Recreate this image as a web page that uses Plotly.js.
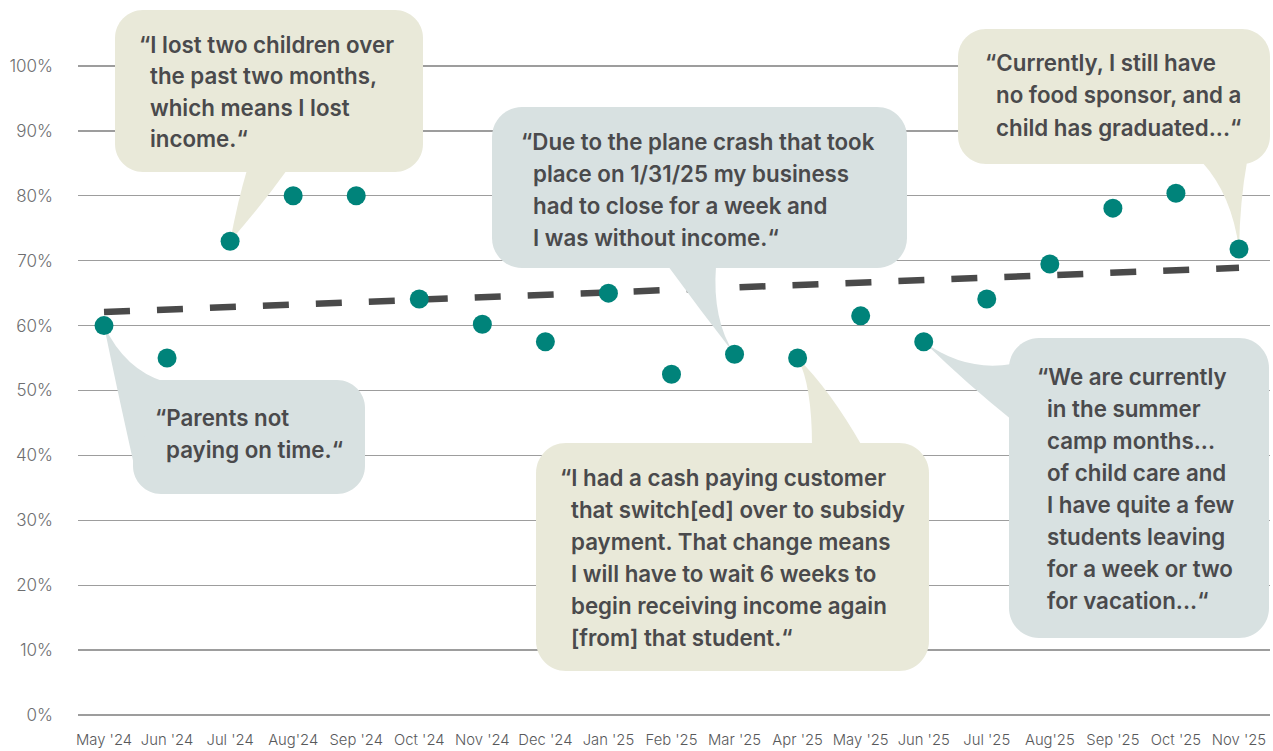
<!DOCTYPE html>
<html>
<head>
<meta charset="utf-8">
<script src="https://cdn.plot.ly/plotly-3.0.1.min.js"></script>
<style>html,body{margin:0;padding:0;background:#fff;}#chart{width:1273px;height:751px;}</style>
</head>
<body>
<div id="chart"></div>
<script>
// ---- data ----
const months = ["May '24","Jun '24","Jul '24","Aug'24","Sep '24","Oct '24","Nov '24","Dec '24","Jan '25","Feb '25","Mar '25","Apr '25","May '25","Jun '25","Jul '25","Aug'25","Sep '25","Oct '25","Nov '25"];
const shareValues = [60, 55, 73, 80, 80, 64.1, 60.2, 57.5, 65, 52.5, 55.6, 55, 61.5, 57.5, 64.1, 69.5, 78.1, 80.4, 71.8];
const trendMonths = ["May '24", "Nov '25"];
const trendValues = [62.1, 68.9];
const yTickValues = [0,10,20,30,40,50,60,70,80,90,100];
const yTickLabels = ["0%","10%","20%","30%","40%","50%","60%","70%","80%","90%","100%"];

const quotes = [
  {month: "Jul '24", lines: ["\u201CI lost two children over","the past two months,","which means I lost","income.\u201C"]},
  {month: "Mar '25", lines: ["\u201CDue to the plane crash that took","place on 1/31/25 my business","had to close for a week and","I was without income.\u201C"]},
  {month: "Nov '25", lines: ["\u201CCurrently, I still have","no food sponsor, and a","child has graduated...\u201C"]},
  {month: "May '24", lines: ["\u201CParents not","paying on time.\u201C"]},
  {month: "Apr '25", lines: ["\u201CI had a cash paying customer","that switch[ed] over to subsidy","payment. That change means","I will have to wait 6 weeks to","begin receiving income again","[from] that student.\u201C"]},
  {month: "Jun '25", lines: ["\u201CWe are currently","in the summer","camp months...","of child care and","I have quite a few","students leaving","for a week or two","for vacation...\u201C"]}
];

// ---- layout geometry (pixels) ----
const ML = 78, MR = 3, MT = 4, MB = 36, W = 1273, H = 751;
const X0PX = 104, XSTEP = (1239 - 104) / 18, Y0PX = 715, YSCALE = 6.49;
const fx = p => (p - X0PX) / XSTEP;
const fy = p => (Y0PX - p) / YSCALE;
const idx = m => months.indexOf(m);

const BEIGE = "#e9e9d9", BLUE = "#d8e1e1";
const bubbles = [
  {box:[115,10,423,172], r:28, color:BEIGE, tail:{a:[247,170], ca:[238,200], b:[287,170], cb:[262,205]}, qx:137, tx:148, y0:44, gap:31.5},
  {box:[492,107,907,268], r:30, color:BLUE, tail:{a:[668,266], ca:[700,310], b:[716,266], cb:[712,320]}, qx:519, tx:531, y0:141, gap:32.3},
  {box:[958,29,1270,164], r:28, color:BEIGE, tail:{a:[1202,162], ca:[1232,195], b:[1247,162], cb:[1240,200]}, qx:983, tx:994, y0:62, gap:32.5},
  {box:[133,380,365,494], r:28, color:BLUE, tail:{a:[134,465], ca:[115,380], b:[165,382], cb:[125,370]}, qx:153, tx:164, y0:417, gap:32},
  {box:[536,443,929,671], r:30, color:BEIGE, tail:{a:[812,446], ca:[812,385], b:[862,446], cb:[830,390]}, qx:558, tx:569, y0:477, gap:32},
  {box:[1009,338,1269,638], r:30, color:BLUE, tail:{a:[1012,364], ca:[965,372], b:[1012,420], cb:[968,385]}, qx:1035, tx:1045, y0:376, gap:32}
];

function P(px, py) { return fx(px).toFixed(4) + "," + fy(py).toFixed(4); }
function roundRect(x0, y0, x1, y1, r) {
  const k = 0.5523 * r;
  return "M" + P(x0 + r, y0) +
    " L" + P(x1 - r, y0) +
    " C" + P(x1 - r + k, y0) + " " + P(x1, y0 + r - k) + " " + P(x1, y0 + r) +
    " L" + P(x1, y1 - r) +
    " C" + P(x1, y1 - r + k) + " " + P(x1 - r + k, y1) + " " + P(x1 - r, y1) +
    " L" + P(x0 + r, y1) +
    " C" + P(x0 + r - k, y1) + " " + P(x0, y1 - r + k) + " " + P(x0, y1 - r) +
    " L" + P(x0, y0 + r) +
    " C" + P(x0, y0 + r - k) + " " + P(x0 + r - k, y0) + " " + P(x0 + r, y0) + " Z";
}

const shapes = [];
shapes.push({
  type: "line", layer: "between", xref: "x", yref: "y",
  x0: idx(trendMonths[0]), y0: trendValues[0], x1: idx(trendMonths[1]), y1: trendValues[1],
  line: {color: "#4a4a4a", width: 6.5, dash: "26px,27px"}
});
const annotations = [];
const font = {family: "Inter, Lato, sans-serif", size: 22.3, color: "#4a4a4c", weight: 600};
bubbles.forEach((b, i) => {
  const q = quotes[i];
  const tipX = idx(q.month), tipY = shareValues[idx(q.month)];
  const tip = tipX.toFixed(4) + "," + tipY.toFixed(4);
  shapes.push({type: "path", layer: "between", xref: "x", yref: "y",
    path: roundRect(b.box[0], b.box[1], b.box[2], b.box[3], b.r),
    fillcolor: b.color, line: {width: 0}});
  const t = b.tail;
  shapes.push({type: "path", layer: "between", xref: "x", yref: "y",
    path: "M" + P(t.a[0], t.a[1]) + " Q" + P(t.ca[0], t.ca[1]) + " " + tip +
          " Q" + P(t.cb[0], t.cb[1]) + " " + P(t.b[0], t.b[1]) + " Z",
    fillcolor: b.color, line: {width: 0}});
  q.lines.forEach((ln, j) => {
    annotations.push({
      xref: "x", yref: "y", x: fx(j === 0 ? b.qx : b.tx), y: fy(b.y0 + j * b.gap),
      xanchor: "left", yanchor: "middle", align: "left", showarrow: false,
      text: ln, font: font
    });
  });
});

const traces = [{
  type: "scatter", mode: "markers",
  x: months.map((m, i) => i), y: shareValues,
  marker: {color: "#00837a", size: 19},
  hoverinfo: "skip", cliponaxis: false
}];

const layout = {
  width: W, height: H,
  margin: {l: ML, r: MR, t: MT, b: MB},
  paper_bgcolor: "#fff", plot_bgcolor: "#fff",
  showlegend: false,
  xaxis: {
    range: [fx(78), fx(1270)], tickmode: "array",
    tickvals: months.map((m, i) => i), ticktext: months,
    showgrid: false, zeroline: false, showline: false,
    ticks: "", ticklabelstandoff: 14,
    tickfont: {family: "Inter, Lato, sans-serif", size: 14.8, color: "#58595b", weight: 300},
    fixedrange: true
  },
  yaxis: {
    range: [0, fy(4)], tickmode: "array",
    tickvals: yTickValues, ticktext: yTickLabels,
    showgrid: true, gridcolor: "#9d9d9d", gridwidth: 1.3,
    zeroline: true, zerolinecolor: "#9d9d9d", zerolinewidth: 1.3,
    showline: false, ticks: "", ticklabelstandoff: 24,
    tickfont: {family: "Inter, Lato, sans-serif", size: 17, color: "#6d6e70", weight: 300},
    fixedrange: true
  },
  shapes: shapes,
  annotations: annotations
};

Plotly.newPlot("chart", traces, layout, {displayModeBar: false, staticPlot: true});
</script>
</body>
</html>
